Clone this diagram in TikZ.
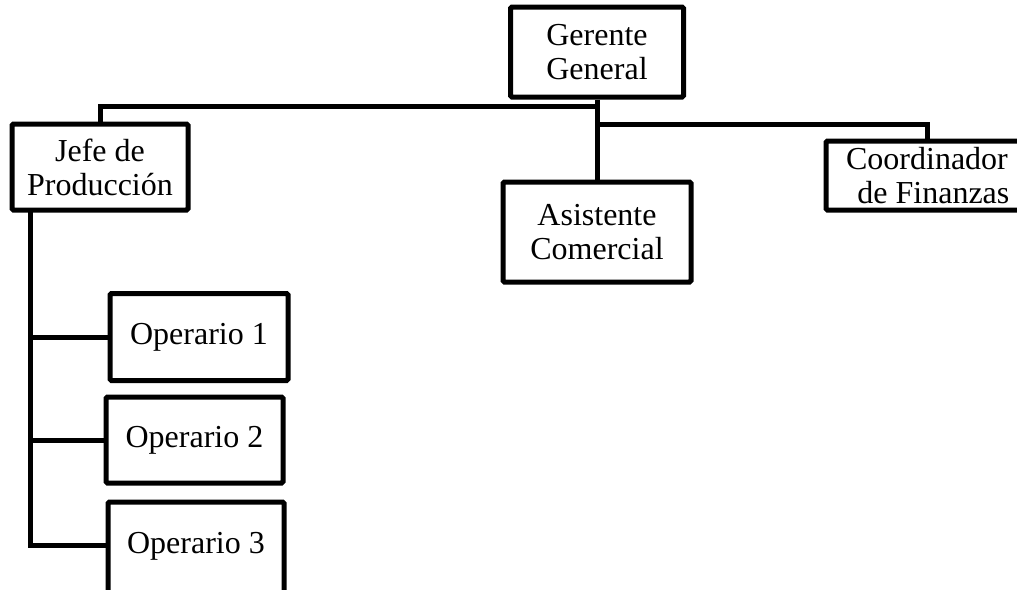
\documentclass[tikz,border=0pt]{standalone}
\usepackage{fontspec}
\setmainfont{Liberation Serif}
\begin{document}
\begin{tikzpicture}[x=1pt,y=-1pt,
  box/.style={draw=black,line width=5pt,inner sep=0pt,align=center,
    font=\fontsize{32}{34}\selectfont,rounded corners=1.5pt},
  conn/.style={draw=black,line width=5pt}]
\useasboundingbox (0,0) rectangle (1017,589);
\fill[white] (0,0) rectangle (1017,589);
\clip (0,0) rectangle (1017,589);
\node[box,minimum width=173pt,minimum height=90pt] (gg) at (597,52) {Gerente\\General};
\node[box,minimum width=176pt,minimum height=86pt] (jefe) at (100,167) {Jefe de\\Producción};
\node[box,minimum width=188pt,minimum height=100pt] (as) at (597,232) {Asistente\\Comercial};
\node[box,minimum width=202pt,minimum height=69pt] (co) at (927,175.5) {Coordinador\\\hspace*{0.4em}de Finanzas};
\node[box,minimum width=178pt,minimum height=87pt] (op1) at (199,337) {Operario 1};
\node[box,minimum width=177pt,minimum height=86pt] (op2) at (194.5,440) {Operario 2};
\node[box,minimum width=176pt,minimum height=96pt,text depth=14pt] (op3) at (196,550) {Operario 3};
\coordinate (jv) at (30,210);
\draw[conn] (gg.south) -- (as.north);
\draw[conn] ([yshift=-7pt]gg.south) -| (jefe.north);
\draw[conn] ([yshift=-25pt]gg.south) -| (co.north);
\draw[conn] (jv) -- (jv |- 0,545) -- (op3.west |- 0,545);
\draw[conn] (jv |- op1.west) -- (op1.west);
\draw[conn] (jv |- op2.west) -- (op2.west);
\end{tikzpicture}
\end{document}
